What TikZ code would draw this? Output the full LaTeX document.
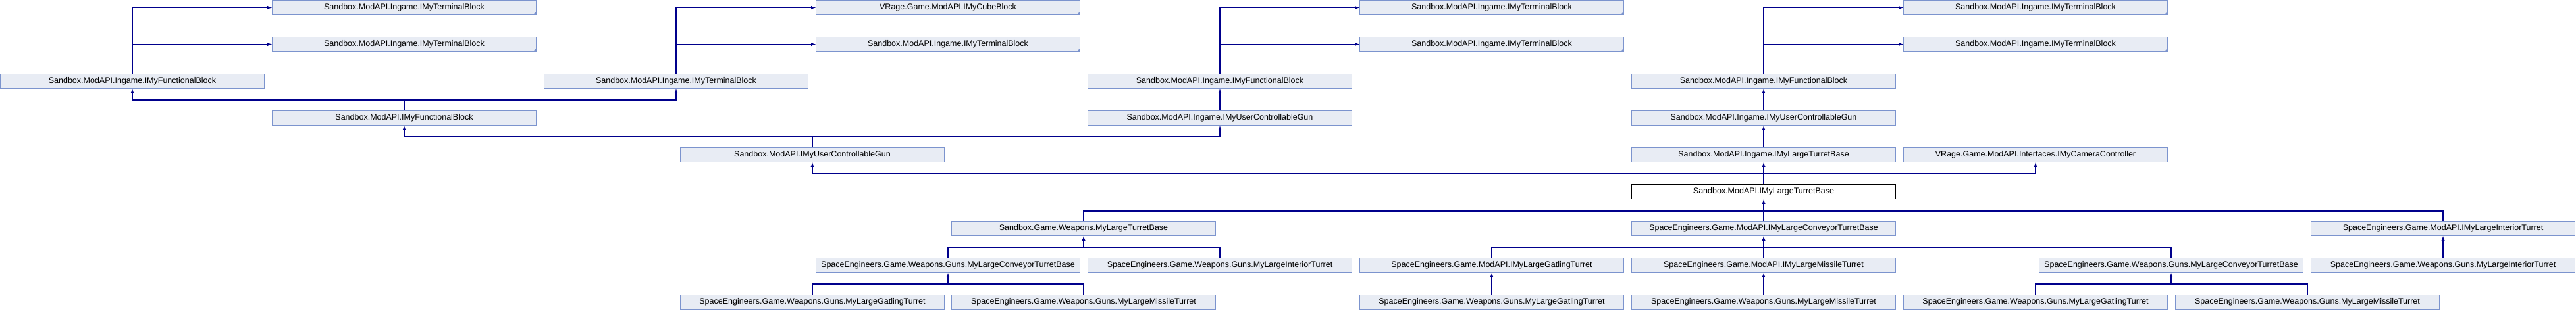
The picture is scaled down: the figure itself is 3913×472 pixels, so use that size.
\documentclass[tikz,border=0pt]{standalone}
\usepackage{tikz}
\usepackage{fontspec}
\setmainfont{Liberation Sans}
\usetikzlibrary{arrows}

\definecolor{boxfill}{RGB}{232,236,244}
\definecolor{boxline}{RGB}{124,148,206}
\definecolor{edgeblue}{RGB}{0,0,140}

\begin{document}
\begin{tikzpicture}[x=1pt,y=-1pt,
	class_node/.style={rectangle,fill=boxfill,draw=boxline,line width=1.2pt,minimum width=401pt,minimum height=22pt,inner sep=0pt,font=\fontsize{12.5}{14}\selectfont},
	trunc_node/.style={class_node,path picture={\fill[boxline] (path picture bounding box.south east) -- ++(-5pt,0) -- ++(5pt,5pt) -- cycle;}},
	this_node/.style={class_node,fill=white,draw=black},
	edge/.style={draw=edgeblue,line width=1.3pt},
	up/.style={edge,-latex}]
		
		\useasboundingbox (0,0) rectangle (3913,472);
		
		% top rows
		\node[trunc_node] (t1a) at (614,11.5) {Sandbox.ModAPI.Ingame.IMyTerminalBlock};
		\node[trunc_node] (cube) at (1440,11.5) {VRage.Game.ModAPI.IMyCubeBlock};
		\node[trunc_node] (t3a) at (2266,11.5) {Sandbox.ModAPI.Ingame.IMyTerminalBlock};
		\node[trunc_node] (t4a) at (3092,11.5) {Sandbox.ModAPI.Ingame.IMyTerminalBlock};
		\node[trunc_node] (t1b) at (614,67.5) {Sandbox.ModAPI.Ingame.IMyTerminalBlock};
		\node[trunc_node] (t2b) at (1440,67.5) {Sandbox.ModAPI.Ingame.IMyTerminalBlock};
		\node[trunc_node] (t3b) at (2266,67.5) {Sandbox.ModAPI.Ingame.IMyTerminalBlock};
		\node[trunc_node] (t4b) at (3092,67.5) {Sandbox.ModAPI.Ingame.IMyTerminalBlock};
		
		\node[class_node] (fb1) at (201,123.5) {Sandbox.ModAPI.Ingame.IMyFunctionalBlock};
		\node[class_node] (tb2) at (1027,123.5) {Sandbox.ModAPI.Ingame.IMyTerminalBlock};
		\node[class_node] (fb3) at (1853,123.5) {Sandbox.ModAPI.Ingame.IMyFunctionalBlock};
		\node[class_node] (fb4) at (2679,123.5) {Sandbox.ModAPI.Ingame.IMyFunctionalBlock};
		
		\node[class_node] (mfb) at (614,179.5) {Sandbox.ModAPI.IMyFunctionalBlock};
		\node[class_node] (ucg3) at (1853,179.5) {Sandbox.ModAPI.Ingame.IMyUserControllableGun};
		\node[class_node] (ucg4) at (2679,179.5) {Sandbox.ModAPI.Ingame.IMyUserControllableGun};
		
		\node[class_node] (mucg) at (1234,235.5) {Sandbox.ModAPI.IMyUserControllableGun};
		\node[class_node] (iltb) at (2679,235.5) {Sandbox.ModAPI.Ingame.IMyLargeTurretBase};
		\node[class_node] (camc) at (3092,235.5) {VRage.Game.ModAPI.Interfaces.IMyCameraController};
		
		\node[this_node] (ltb) at (2679,291.5) {Sandbox.ModAPI.IMyLargeTurretBase};
		
		% bottom rows
		\node[class_node] (gltb) at (1646,347.5) {Sandbox.Game.Weapons.MyLargeTurretBase};
		\node[class_node] (sctb) at (2679,347.5) {SpaceEngineers.Game.ModAPI.IMyLargeConveyorTurretBase};
		\node[class_node] (sit) at (3711,347.5) {SpaceEngineers.Game.ModAPI.IMyLargeInteriorTurret};
		
		\node[class_node] (gctb) at (1440,403.5) {SpaceEngineers.Game.Weapons.Guns.MyLargeConveyorTurretBase};
		\node[class_node] (git) at (1853,403.5) {SpaceEngineers.Game.Weapons.Guns.MyLargeInteriorTurret};
		\node[class_node] (igt) at (2266,403.5) {SpaceEngineers.Game.ModAPI.IMyLargeGatlingTurret};
		\node[class_node] (imt) at (2679,403.5) {SpaceEngineers.Game.ModAPI.IMyLargeMissileTurret};
		\node[class_node] (gctb2) at (3298,403.5) {SpaceEngineers.Game.Weapons.Guns.MyLargeConveyorTurretBase};
		\node[class_node] (git2) at (3711,403.5) {SpaceEngineers.Game.Weapons.Guns.MyLargeInteriorTurret};
		
		\node[class_node] (ggt1) at (1234,459.5) {SpaceEngineers.Game.Weapons.Guns.MyLargeGatlingTurret};
		\node[class_node] (gmt1) at (1646,459.5) {SpaceEngineers.Game.Weapons.Guns.MyLargeMissileTurret};
		\node[class_node] (ggt2) at (2266,459.5) {SpaceEngineers.Game.Weapons.Guns.MyLargeGatlingTurret};
		\node[class_node] (gmt2) at (2679,459.5) {SpaceEngineers.Game.Weapons.Guns.MyLargeMissileTurret};
		\node[class_node] (ggt3) at (3092,459.5) {SpaceEngineers.Game.Weapons.Guns.MyLargeGatlingTurret};
		\node[class_node] (gmt3) at (3505,459.5) {SpaceEngineers.Game.Weapons.Guns.MyLargeMissileTurret};
		
		% bars
		\coordinate (bar_mfb) at (614,152);
		\coordinate (bar_mucg) at (1234,208);
		\coordinate (bar_ltb) at (2679,264);
		\coordinate (bar_kids) at (2679,321);
		\coordinate (bar_gltb) at (1646,376);
		\coordinate (bar_sctb) at (2679,376);
		\coordinate (bar_gctb) at (1440,432);
		\coordinate (bar_gctb2) at (3298,432);
		
		\draw[up] (fb1.north) |- (t1a.west);
		\draw[up] (fb1.north) |- (t1b.west);
		\draw[up] (tb2.north) |- (cube.west);
		\draw[up] (tb2.north) |- (t2b.west);
		\draw[up] (fb3.north) |- (t3a.west);
		\draw[up] (fb3.north) |- (t3b.west);
		\draw[up] (fb4.north) |- (t4a.west);
		\draw[up] (fb4.north) |- (t4b.west);
		
		\draw[edge] (mfb.north) -- (bar_mfb);
		\draw[up] (bar_mfb) -| (fb1.south);
		\draw[up] (bar_mfb) -| (tb2.south);
		\draw[up] (ucg3.north) -- (fb3.south);
		\draw[up] (ucg4.north) -- (fb4.south);
		
		\draw[edge] (mucg.north) -- (bar_mucg);
		\draw[up] (bar_mucg) -| (mfb.south);
		\draw[up] (bar_mucg) -| (ucg3.south);
		\draw[up] (iltb.north) -- (ucg4.south);
		
		\draw[edge] (ltb.north) -- (bar_ltb);
		\draw[up] (bar_ltb) -| (mucg.south);
		\draw[up] (bar_ltb) -- (iltb.south);
		\draw[up] (bar_ltb) -| (camc.south);
		
		\draw[edge] (gltb.north) |- (bar_kids);
		\draw[edge] (sit.north) |- (bar_kids);
		\draw[edge] (sctb.north) -- (bar_kids);
		\draw[up] (bar_kids) -- (ltb.south);
		
		\draw[edge] (gctb.north) |- (bar_gltb);
		\draw[edge] (git.north) |- (bar_gltb);
		\draw[up] (bar_gltb) -- (gltb.south);
		
		\draw[edge] (igt.north) |- (bar_sctb);
		\draw[edge] (gctb2.north) |- (bar_sctb);
		\draw[edge] (imt.north) -- (bar_sctb);
		\draw[up] (bar_sctb) -- (sctb.south);
		\draw[up] (git2.north) -- (sit.south);
		
		\draw[edge] (ggt1.north) |- (bar_gctb);
		\draw[edge] (gmt1.north) |- (bar_gctb);
		\draw[up] (bar_gctb) -- (gctb.south);
		\draw[up] (ggt2.north) -- (igt.south);
		\draw[up] (gmt2.north) -- (imt.south);
		\draw[edge] (ggt3.north) |- (bar_gctb2);
		\draw[edge] (gmt3.north) |- (bar_gctb2);
		\draw[up] (bar_gctb2) -- (gctb2.south);
		\end{tikzpicture}
\end{document}
